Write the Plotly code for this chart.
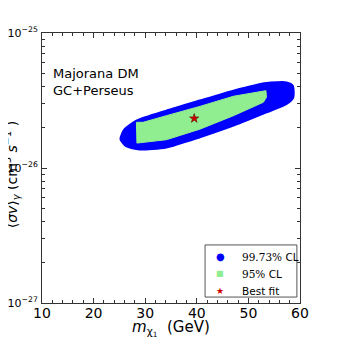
import plotly.graph_objects as go

# 99.73% CL region outline (mass in GeV, <sigma v> in units of 1e-26 cm^3 s^-1)
blue_mass = [25.2, 26.3, 28.9, 34.1, 40.6, 47.1, 53.5, 57.4, 58.7, 58.6, 57.4, 53.5, 47.1, 40.6, 34.1, 28.3, 26.0]
blue_sigv = [1.64, 1.45, 1.37, 1.42, 1.69, 2.06, 2.58, 2.98, 3.34, 4.07, 4.31, 4.26, 3.74, 3.16, 2.66, 2.24, 1.94]

# 95% CL region outline
green_mass = [28.3, 28.4, 34.1, 40.6, 47.1, 52.9, 53.5, 53.4, 47.1, 40.6, 34.1, 29.6]
green_sigv = [2.18, 1.53, 1.62, 1.94, 2.44, 3.07, 3.34, 3.74, 3.40, 2.86, 2.44, 2.18]

best_mass = [39.5]
best_sigv = [2.33]

scale = 1e-26
y_ticks = [1e-27, 1e-26, 1e-25]
y_ticktext = ["10<sup>−27</sup>", "10<sup>−26</sup>", "10<sup>−25</sup>"]
y_minor = [k * 1e-27 for k in range(2, 10)] + [k * 1e-26 for k in range(2, 10)]

legend_labels = [
    "<span style='font-family:DejaVu Serif'>99.73%</span> CL",
    "<span style='font-family:DejaVu Serif'>95%</span> CL",
    "Best fit",
]
legend_symbols = ["●", "■", "★"]

BLUE = "#0000ff"
GREEN = "#90ee90"
RED = "#cc0000"

fig = go.Figure()

fig.add_trace(go.Scatter(
    x=blue_mass + blue_mass[:1],
    y=[v * scale for v in blue_sigv + blue_sigv[:1]],
    mode="lines", fill="toself", fillcolor=BLUE,
    line=dict(color=BLUE, width=2, shape="spline", smoothing=0.6),
    showlegend=False, hoverinfo="skip", name="99.73% CL",
))
fig.add_trace(go.Scatter(
    x=green_mass + green_mass[:1],
    y=[v * scale for v in green_sigv + green_sigv[:1]],
    mode="lines", fill="toself", fillcolor=GREEN,
    line=dict(color=GREEN, width=1),
    showlegend=False, hoverinfo="skip", name="95% CL",
))
fig.add_trace(go.Scatter(
    x=best_mass, y=[v * scale for v in best_sigv],
    mode="markers", name="Best fit",
    marker=dict(symbol="star", size=7, color=RED, line=dict(color="#550000", width=0.5)),
    showlegend=False,
))

# hand-made legend box (plotly's own legend rows are too tall for this size)
fig.add_shape(type="rect", xref="paper", yref="paper",
              x0=0.632, x1=0.988, y0=0.022, y1=0.215,
              line=dict(color="#555555", width=1), fillcolor="white", layer="above")
sym_colors = [BLUE, GREEN, RED]
sym_sizes = [10, 8, 9]
for i, (sym, lab) in enumerate(zip(legend_symbols, legend_labels)):
    yy = 0.172 - i * 0.063
    fig.add_annotation(text=sym, xref="paper", yref="paper", x=0.69, y=yy,
                       xanchor="center", yanchor="middle", showarrow=False,
                       font=dict(size=sym_sizes[i], color=sym_colors[i]))
    fig.add_annotation(text=lab, xref="paper", yref="paper", x=0.768, y=yy,
                       xanchor="left", yanchor="middle", showarrow=False,
                       font=dict(size=10.5, color="black"))

fig.add_annotation(
    text="Majorana DM<br>GC+Perseus",
    xref="paper", yref="paper", x=0.035, y=0.885,
    xanchor="left", yanchor="top", align="left", showarrow=False,
    font=dict(size=13, color="black"),
)
# axis titles placed as annotations so they sit where the original has them
fig.add_annotation(
    text="<i>m</i><sub>χ<sub>1</sub></sub>  (GeV)",
    xref="paper", yref="paper", x=0.50, y=-0.093,
    xanchor="center", yanchor="middle", showarrow=False,
    font=dict(size=15, color="black"),
)
fig.add_annotation(
    text="⟨<i>σv</i>⟩<sub><i>γ</i></sub> (cm<sup>3</sup> <i>s</i><sup>−1</sup> )",
    xref="paper", yref="paper", x=-0.118, y=0.475, textangle=-90,
    xanchor="center", yanchor="middle", showarrow=False,
    font=dict(size=14, color="black"),
)

axis_common = dict(
    showgrid=False, zeroline=False, showline=True, linecolor="#333333", linewidth=1,
    mirror="allticks", ticks="inside", ticklen=5, tickcolor="#333333", automargin=False,
)

fig.update_xaxes(
    range=[10, 60], tickvals=[10, 20, 30, 40, 50, 60],
    minor=dict(ticks="inside", ticklen=3, dtick=2, tickcolor="#333333", showgrid=False),
    tickfont=dict(size=14, color="black"), ticklabelstandoff=-3,
    **axis_common,
)
fig.update_yaxes(
    type="log", range=[-27, -25], tickvals=y_ticks, ticktext=y_ticktext,
    minor=dict(ticks="inside", ticklen=3, tickvals=y_minor, tickcolor="#333333", showgrid=False),
    tickfont=dict(size=11, color="black"), ticklabelstandoff=1,
    **axis_common,
)

# the page adds an 8px body margin, so the figure is 330 px and margins are offset
fig.update_layout(
    width=330, height=330,
    margin=dict(l=34, r=38, t=25, b=35),
    paper_bgcolor="white", plot_bgcolor="white",
    font=dict(family="DejaVu Sans", color="black"),
    showlegend=False,
)

fig.write_html("out.html")
